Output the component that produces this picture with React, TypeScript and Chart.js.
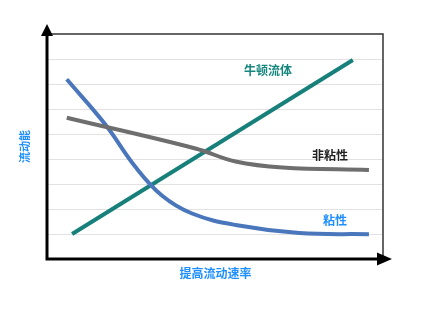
import React, { useEffect, useRef } from "react";
import { Chart, registerables } from "chart.js";

Chart.register(...registerables);

// Flow rate (x) and flow capability (y)
const newtonianX = [0.72, 9.1];
const newtonianY = [1.0, 7.96];

const viscousX = [0.56, 1.7, 2.6, 3.4, 4.3, 5.6, 7.5, 9.58];
const viscousY = [7.19, 5.4, 3.7, 2.54, 1.82, 1.36, 1.04, 0.99];

const inviscidX = [0.56, 4.4, 5.6, 7.0, 9.58];
const inviscidY = [5.65, 4.42, 3.9, 3.66, 3.56];

const xTitle = "提高流动速率";
const yTitle = "流动能";

const labelTexts = ["牛顿流体", "非粘性", "粘性"];
const labelX = [6.57, 8.42, 8.57];
const labelY = [7.56, 4.16, 1.55];
const labelColors = ["#16877f", "#222222", "#1e8fff"];

const yMin = 0;
const yMax = 9;
const xMin = 0;
const xMax = 10;

const FONT = "'Noto Sans CJK SC', 'Noto Sans', sans-serif";

const zip = (xs: number[], ys: number[]) => xs.map((x, i) => ({ x, y: ys[i] }));

const decorPlugin = {
  id: "decor",
  beforeDatasetsDraw(chart: any) {
    const { ctx, chartArea } = chart;
    const { left, top, right, bottom } = chartArea;
    ctx.save();
    ctx.strokeStyle = "#333333";
    ctx.lineWidth = 1.5;
    ctx.beginPath();
    ctx.moveTo(left, top);
    ctx.lineTo(right, top);
    ctx.lineTo(right, bottom);
    ctx.stroke();
    ctx.restore();
  },
  afterDatasetsDraw(chart: any) {
    const { ctx, chartArea, scales } = chart;
    const { left, top, right, bottom } = chartArea;
    ctx.save();
    ctx.strokeStyle = "#000000";
    ctx.lineWidth = 3;
    ctx.beginPath();
    ctx.moveTo(left - 1, top - 2);
    ctx.lineTo(left - 1, bottom);
    ctx.lineTo(right + 2, bottom);
    ctx.stroke();
    ctx.fillStyle = "#000000";
    ctx.beginPath();
    ctx.moveTo(left - 1, top - 10);
    ctx.lineTo(left - 7, top + 2);
    ctx.lineTo(left + 5, top + 2);
    ctx.closePath();
    ctx.fill();
    ctx.beginPath();
    ctx.moveTo(right + 9, bottom);
    ctx.lineTo(right - 6, bottom - 6.5);
    ctx.lineTo(right - 6, bottom + 6.5);
    ctx.closePath();
    ctx.fill();
    ctx.font = `bold 12px ${FONT}`;
    ctx.textAlign = "center";
    ctx.textBaseline = "middle";
    labelTexts.forEach((t, i) => {
      ctx.fillStyle = labelColors[i];
      ctx.fillText(t, scales.x.getPixelForValue(labelX[i]), scales.y.getPixelForValue(labelY[i]));
    });
    ctx.restore();
  },
};

export default function App() {
  const canvasRef = useRef<HTMLCanvasElement | null>(null);

  useEffect(() => {
    if (!canvasRef.current) return;
    const chart = new Chart(canvasRef.current, {
      type: "line",
      data: {
        datasets: [
          {
            label: "非粘性",
            data: zip(inviscidX, inviscidY),
            borderColor: "#6e6e6e",
            borderWidth: 4,
            pointRadius: 0,
            tension: 0.4,
            borderCapStyle: "butt",
          },
          {
            label: "粘性",
            data: zip(viscousX, viscousY),
            borderColor: "#4a76bb",
            borderWidth: 4,
            pointRadius: 0,
            tension: 0.4,
            borderCapStyle: "butt",
          },
          {
            label: "牛顿流体",
            data: zip(newtonianX, newtonianY),
            borderColor: "#17807a",
            borderWidth: 4,
            pointRadius: 0,
            tension: 0,
            borderCapStyle: "butt",
          },
        ],
      },
      options: {
        animation: false,
        responsive: false,
        maintainAspectRatio: false,
        layout: { autoPadding: false, padding: { left: 0, top: 34, right: 40, bottom: 30 } },
        plugins: { legend: { display: false }, tooltip: { enabled: false } },
        scales: {
          x: {
            type: "linear",
            min: xMin,
            max: xMax,
            ticks: { display: false },
            grid: { display: false, drawTicks: false },
            border: { display: false },
            title: {
              display: true,
              text: xTitle,
              color: "#1e8fff",
              font: { family: FONT, size: 12, weight: "bold" },
              padding: { top: 6.8, bottom: 8.8 },
            },
          },
          y: {
            type: "linear",
            min: yMin,
            max: yMax,
            ticks: { display: false, stepSize: 1 },
            grid: {
              drawTicks: false,
              color: (c: any) => (c.tick && (c.tick.value === yMin || c.tick.value === yMax) ? "rgba(0,0,0,0)" : "#e2e2e2"),
              lineWidth: 1,
            },
            border: { display: false },
            title: {
              display: true,
              text: yTitle,
              color: "#1e8fff",
              font: { family: FONT, size: 11, weight: "bold" },
              padding: { top: 18.4, bottom: 16.4 },
            },
          },
        },
      },
      plugins: [decorPlugin],
    } as any);
    return () => chart.destroy();
  }, []);

  return (
    <div style={{ position: "absolute", left: 0, top: 0, width: 423, height: 319, background: "#ffffff" }}>
      <canvas ref={canvasRef} width={423} height={319} style={{ display: "block" }} />
    </div>
  );
}
